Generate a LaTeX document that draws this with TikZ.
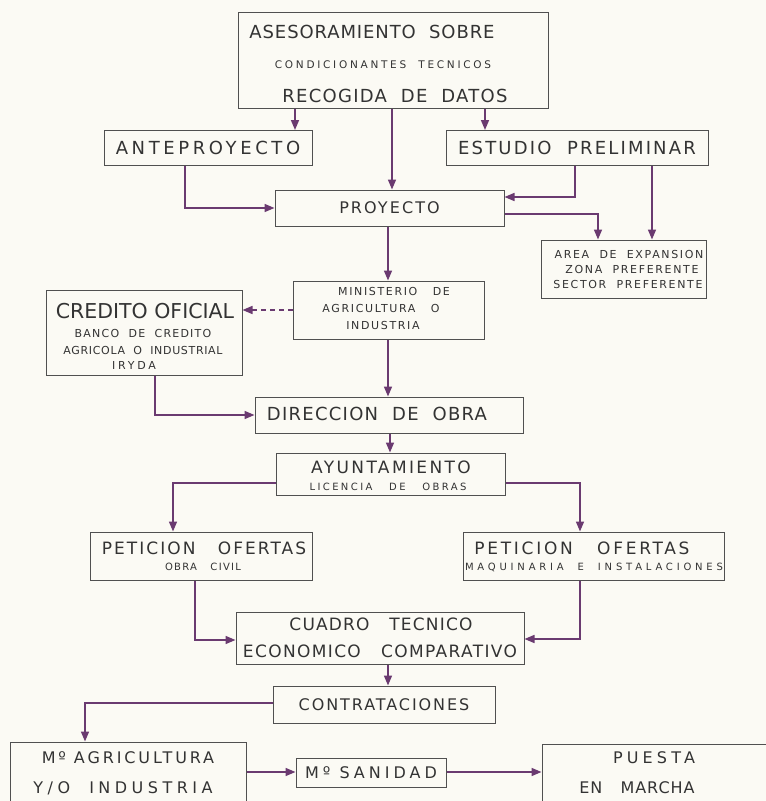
\documentclass[tikz,border=0pt]{standalone}
\usepackage{fontspec}
\setmainfont{DejaVu Sans}
\usetikzlibrary{arrows.meta}
\definecolor{ln}{HTML}{6A3A70}
\definecolor{bx}{HTML}{505050}
\definecolor{tx}{HTML}{333333}
\definecolor{paper}{HTML}{FBFAF4}
\newcommand{\txtls}[3]{\fontsize{#1}{#1}\selectfont\addfontfeature{LetterSpace=#2}#3}
\begin{document}
\begin{tikzpicture}[x=1pt,y=-1pt,
  box/.style={draw=bx, line width=1pt, inner sep=0pt},
  wh/.style 2 args={minimum width=#1, minimum height=#2},
  lbl/.style={text=tx, inner sep=0pt, align=center},
  conn/.style={draw=ln, line width=1.6pt, -{Triangle[length=10pt,width=8pt]}}]
\fill[paper] (0,0) rectangle (766,801);
\useasboundingbox (0,0) rectangle (766,801);
\clip (0,0) rectangle (766,801);

% top box
\node[box, wh={310}{96}] (top) at (393,60) {};
\node[lbl] (top1) at (372,32) {\txtls{18}{5}{ASESORAMIENTO\ \ SOBRE}};
\node[lbl] (top2) at (383,65) {\txtls{10.5}{26}{CONDICIONANTES\ \ TECNICOS}};
\node[lbl] (top3) at (395,96) {\txtls{18}{7}{RECOGIDA\ \ DE\ \ DATOS}};

\node[box, wh={208}{35}, lbl] (ante) at (208,148) {\txtls{18}{20}{ANTEPROYECTO}};
\node[box, wh={262}{35}, lbl] (est) at (577,148) {\txtls{18}{12}{ESTUDIO\ \ PRELIMINAR}};
\node[box, wh={229}{36}, lbl] (proy) at (389.5,208) {\txtls{16}{13}{PROYECTO}};

\node[box, wh={165}{58}] (area) at (623.5,269) {};
\node[lbl] (area1) at (629,254) {\txtls{11}{15}{AREA\ \ DE\ \ EXPANSION}};
\node[lbl] (area2) at (632,269) {\txtls{11}{15}{ZONA\ \ PREFERENTE}};
\node[lbl] (area3) at (628,284) {\txtls{11}{15}{SECTOR\ \ PREFERENTE}};

\node[box, wh={191}{58}] (min) at (388.5,310) {};
\node[lbl] (min1) at (394,291) {\txtls{11}{15}{MINISTERIO\ \ \ DE}};
\node[lbl] (min2) at (381,308) {\txtls{11}{15}{AGRICULTURA\ \ \ O}};
\node[lbl] (min3) at (383,325) {\txtls{11}{15}{INDUSTRIA}};

\node[box, wh={196}{85}] (cred) at (144,332.5) {};
\node[lbl] (cred1) at (145,311) {\txtls{20.5}{0}{CREDITO\ OFICIAL}};
\node[lbl] (cred2) at (143,333) {\txtls{11}{11}{BANCO\ \ DE\ \ CREDITO}};
\node[lbl] (cred3) at (143,350) {\txtls{11}{6}{AGRICOLA\ \ O\ \ INDUSTRIAL}};
\node[lbl] (cred4) at (134,365) {\txtls{11}{25}{IRYDA}};

\node[box, wh={268}{36}, lbl] (dir) at (389,415) {};
\node[lbl] (dirt) at (377,414) {\txtls{18}{7}{DIRECCION\ \ DE\ \ OBRA}};

\node[box, wh={229}{42}] (ayu) at (390.5,474) {};
\node[lbl] (ayu1) at (391,467) {\txtls{17}{14}{AYUNTAMIENTO}};
\node[lbl] (ayu2) at (388,487) {\txtls{10}{24}{LICENCIA\ \ \ DE\ \ \ OBRAS}};

\node[box, wh={222}{48}] (pl) at (201,556) {};
\node[lbl] (pl1) at (204,548) {\txtls{17}{12}{PETICION\ \ \ OFERTAS}};
\node[lbl] (pl2) at (203,567) {\txtls{10}{13}{OBRA\ \ \ CIVIL}};

\node[box, wh={261}{48}] (pr) at (593.5,556) {};
\node[lbl] (pr1) at (582,548) {\txtls{17}{16}{PETICION\ \ \ OFERTAS}};
\node[lbl] (pr2) at (594,567) {\txtls{10}{38}{MAQUINARIA\ \ E\ \ INSTALACIONES}};

\node[box, wh={288}{52}] (cua) at (380,638) {};
\node[lbl] (cua1) at (381,624) {\txtls{17}{7}{CUADRO\ \ \ TECNICO}};
\node[lbl] (cua2) at (380,651) {\txtls{17}{8}{ECONOMICO\ \ \ COMPARATIVO}};

\node[box, wh={222}{37}, lbl] (con) at (384,704.5) {\txtls{16}{12}{CONTRATACIONES}};

\node[box, wh={236}{64}] (mag) at (128,774) {};
\node[lbl] (mag1) at (128,758) {\txtls{16}{18}{Mº\ AGRICULTURA}};
\node[lbl] (mag2) at (123,788) {\txtls{16}{28}{Y/O\ \ INDUSTRIA}};

\node[box, wh={150}{29}, lbl] (san) at (371,772.5) {\txtls{16}{25}{Mº\ SANIDAD}};

\node[box, wh={228}{62}] (pm) at (656,775) {};
\node[lbl] (pm1) at (654,758) {\txtls{16}{26}{PUESTA}};
\node[lbl] (pm2) at (637,788) {\txtls{16}{6}{EN\ \ \ MARCHA}};

% connectors
\draw[conn] (295,0 |- top.south) -- (295,0 |- ante.north);
\draw[conn] (485,0 |- top.south) -- (485,0 |- est.north);
\draw[conn] (392,0 |- top.south) -- (392,0 |- proy.north);
\draw[conn] (185,0 |- ante.south) |- (proy.west);
\draw[conn] (575,0 |- est.south) |- (proy.east |- 0,197);
\draw[conn] (proy.east |- 0,214) -| (598,0 |- area.north);
\draw[conn] (652,0 |- est.south) -- (652,0 |- area.north);
\draw[conn] (388,0 |- proy.south) -- (388,0 |- min.north);
\draw[conn, dash pattern=on 5pt off 4pt] (min.west |- 0,310) -- (cred.east |- 0,310);
\draw[conn] (388,0 |- min.south) -- (388,0 |- dir.north);
\draw[conn] (155,0 |- cred.south) |- (dir.west);
\draw[conn] (390,0 |- dir.south) -- (390,0 |- ayu.north);
\draw[conn] (ayu.west |- 0,483) -| (173,0 |- pl.north);
\draw[conn] (ayu.east |- 0,483) -| (580,0 |- pr.north);
\draw[conn] (195,0 |- pl.south) |- (cua.west |- 0,640);
\draw[conn] (580,0 |- pr.south) |- (cua.east |- 0,639);
\draw[conn] (388,0 |- cua.south) -- (388,0 |- con.north);
\draw[conn] (con.west |- 0,703) -| (85,0 |- mag.north);
\draw[conn] (mag.east |- 0,772) -- (san.west |- 0,772);
\draw[conn] (san.east |- 0,772) -- (pm.west |- 0,772);
\end{tikzpicture}
\end{document}
